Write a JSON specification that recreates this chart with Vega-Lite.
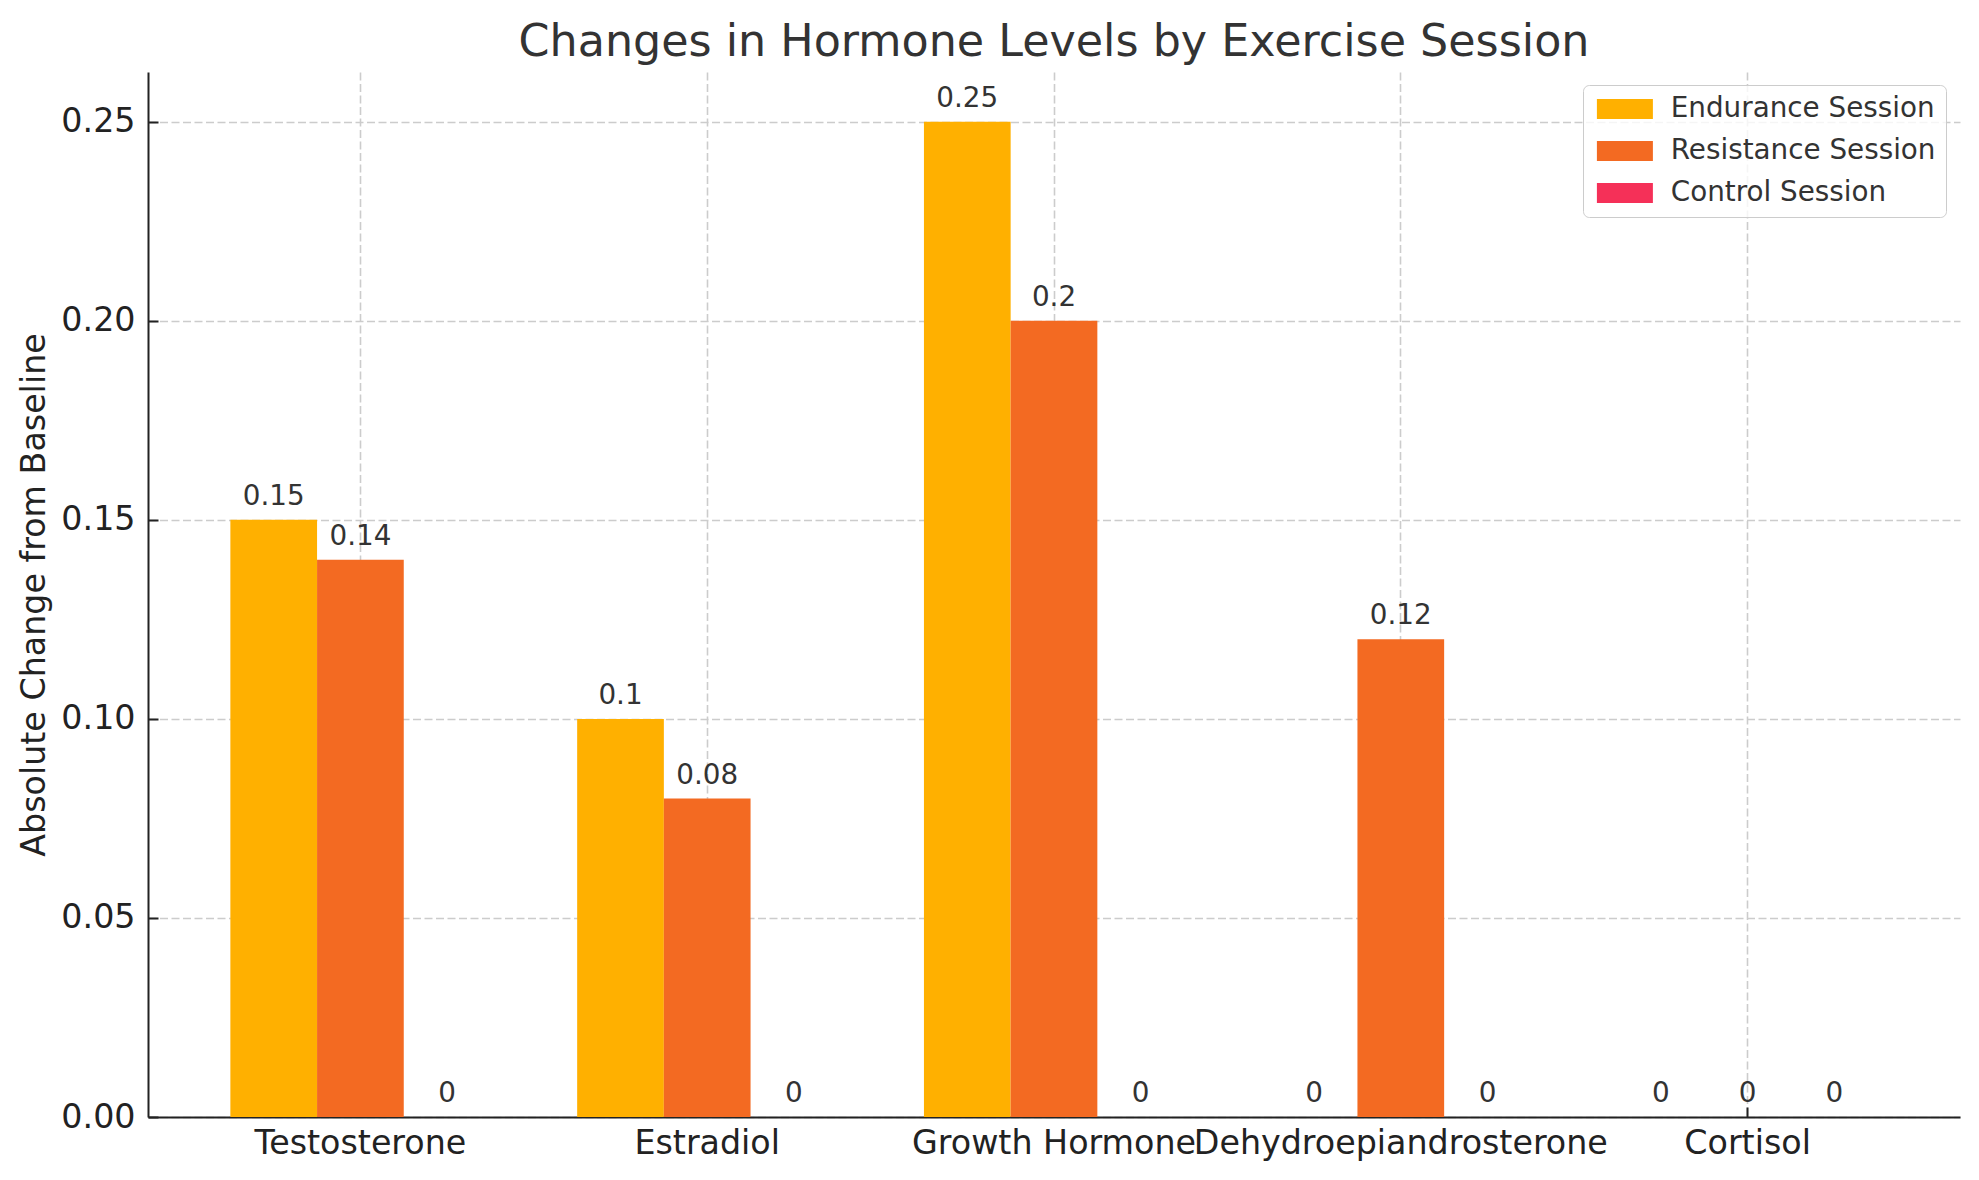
{
  "$schema": "https://vega.github.io/schema/vega-lite/v6.json",
  "width": 1812,
  "height": 1045,
  "autosize": {"type": "none"},
  "padding": {"left": 148, "top": 72, "right": 19, "bottom": 63},
  "background": "white",
  "title": {
    "text": "Changes in Hormone Levels by Exercise Session",
    "font": "DejaVu Sans",
    "fontSize": 44.4,
    "fontWeight": "normal",
    "color": "#333333",
    "anchor": "middle",
    "frame": "group",
    "baseline": "alphabetic",
    "offset": 10,
    "dy": 38
  },
  "data": {
    "values": [
      {"hormone": "Testosterone", "session": "Endurance Session", "value": 0.15},
      {"hormone": "Testosterone", "session": "Resistance Session", "value": 0.14},
      {"hormone": "Testosterone", "session": "Control Session", "value": 0},
      {"hormone": "Estradiol", "session": "Endurance Session", "value": 0.1},
      {"hormone": "Estradiol", "session": "Resistance Session", "value": 0.08},
      {"hormone": "Estradiol", "session": "Control Session", "value": 0},
      {"hormone": "Growth Hormone", "session": "Endurance Session", "value": 0.25},
      {"hormone": "Growth Hormone", "session": "Resistance Session", "value": 0.2},
      {"hormone": "Growth Hormone", "session": "Control Session", "value": 0},
      {"hormone": "Dehydroepiandrosterone", "session": "Endurance Session", "value": 0},
      {"hormone": "Dehydroepiandrosterone", "session": "Resistance Session", "value": 0.12},
      {"hormone": "Dehydroepiandrosterone", "session": "Control Session", "value": 0},
      {"hormone": "Cortisol", "session": "Endurance Session", "value": 0},
      {"hormone": "Cortisol", "session": "Resistance Session", "value": 0},
      {"hormone": "Cortisol", "session": "Control Session", "value": 0}
    ]
  },
  "encoding": {
    "x": {
      "field": "hormone",
      "type": "nominal",
      "sort": ["Testosterone", "Estradiol", "Growth Hormone", "Dehydroepiandrosterone", "Cortisol"],
      "scale": {"paddingInner": 0.25, "paddingOuter": 0.2375},
      "axis": {
        "title": null,
        "labelAngle": 0,
        "bandPosition": 0.5,
        "labelPadding": 20,
        "labelFontSize": 33.3,
        "labelBaseline": "top",
        "labelOverlap": false,
        "labelLimit": 0
      }
    },
    "xOffset": {
      "field": "session",
      "type": "nominal",
      "sort": ["Endurance Session", "Resistance Session", "Control Session"],
      "scale": {"paddingInner": 0, "paddingOuter": 0}
    },
    "y": {
      "field": "value",
      "type": "quantitative",
      "scale": {"domain": [0, 0.2625], "nice": false, "zero": true},
      "axis": {
        "title": "Absolute Change from Baseline",
        "values": [0, 0.05, 0.1, 0.15, 0.2, 0.25],
        "format": ".2f",
        "labelPadding": 23,
        "labelFontSize": 33.3,
        "titleFontSize": 33.3,
        "titleAngle": 270,
        "titleBaseline": "alphabetic",
        "titleAlign": "center",
        "titleX": -104,
        "titleY": 522.5
      }
    }
  },
  "layer": [
    {
      "mark": {"type": "bar"},
      "encoding": {
        "color": {
          "field": "session",
          "type": "nominal",
          "scale": {
            "domain": ["Endurance Session", "Resistance Session", "Control Session"],
            "range": ["#ffb000", "#f36a22", "#f53058"]
          },
          "legend": {
            "title": null,
            "orient": "none",
            "legendX": 1435,
            "legendY": 13,
            "padding": 10,
            "fillColor": "rgba(255,255,255,0.8)",
            "strokeColor": "#cccccc",
            "cornerRadius": 6,
            "symbolType": "M-2.8,-1H2.8V1H-2.8Z",
            "symbolSize": 400,
            "symbolStrokeWidth": 0,
            "symbolOffset": 18,
            "labelOffset": 32,
            "labelFont": "DejaVu Sans",
            "labelFontSize": 27.8,
            "labelColor": "#333333",
            "labelLimit": 0,
            "rowPadding": 13
          }
        }
      }
    },
    {
      "mark": {
        "type": "text",
        "baseline": "alphabetic",
        "align": "center",
        "dy": -15,
        "font": "DejaVu Sans",
        "fontSize": 27.8,
        "color": "#333333"
      },
      "encoding": {
        "text": {"field": "value", "type": "quantitative", "format": "~g"}
      }
    }
  ],
  "config": {
    "view": {"stroke": null},
    "font": "DejaVu Sans",
    "axis": {
      "zindex": 1,
      "labelFont": "DejaVu Sans",
      "titleFont": "DejaVu Sans",
      "labelColor": "#222222",
      "titleColor": "#222222",
      "titleFontWeight": "normal",
      "domainColor": "#222222",
      "domainWidth": 2,
      "tickColor": "#222222",
      "tickWidth": 2,
      "tickSize": -10,
      "grid": true,
      "gridColor": "#cccccc",
      "gridWidth": 1.6,
      "gridDash": [8, 3.5]
    }
  }
}
